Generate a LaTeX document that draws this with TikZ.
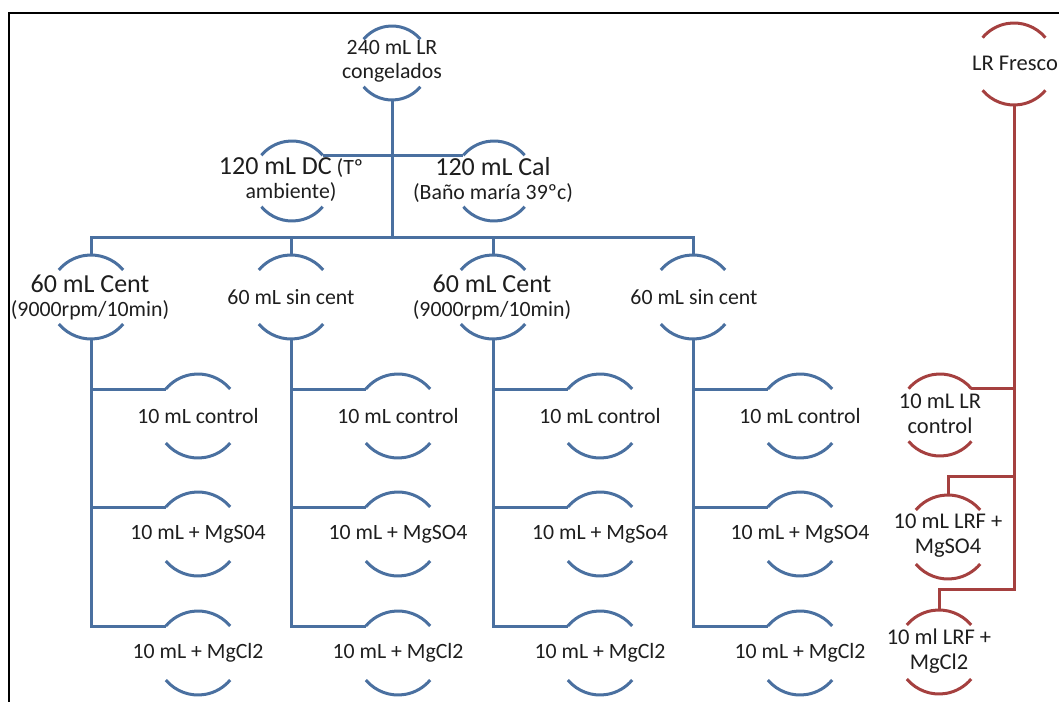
\documentclass[tikz,border=0pt]{standalone}
\usepackage{fontspec}
\setmainfont{Carlito}
\usepackage{tikz}
\usetikzlibrary{calc}
\definecolor{hblue}{HTML}{4A70A0}
\definecolor{hred}{HTML}{A5403F}
\definecolor{txtgray}{HTML}{1E1E1E}
\newcommand{\bigline}[1]{{\fontsize{26}{28}\selectfont #1}}

\begin{document}
\begin{tikzpicture}[x=1pt, y=1pt,
    ring/.style={circle, minimum size=#1, inner sep=0pt, outer sep=0pt},
    lbl/.style={align=center, inner sep=0pt, text=txtgray, font=\fontsize{21.8}{24}\selectfont},
    lblred/.style={lbl, font=\fontsize{22.5}{25}\selectfont},
    bline/.style={draw=hblue, line width=3pt},
    rline/.style={draw=hred, line width=3pt},
]
\useasboundingbox (0,0) rectangle (1059,702);

% frame
\draw[black, line width=1.4pt] (1059,689) -- (9,689) -- (9,0);

% frozen sample and its two halves
\node[ring=74pt] (top) at (392,639) {};
\node[lbl] (toptxt) at (392,641) {240 mL LR\\congelados};
\node[ring=80pt] (dc) at (292,521) {};
\node[lbl] (dctxt) at (291,522) {\bigline{120 mL DC} (Tº\\ambiente)};
\node[ring=80pt] (cal) at (494,521) {};
\node[lbl] (caltxt) at (493,522) {\bigline{120 mL Cal}\\(Baño maría 39ºc)};

% centrifuged / not centrifuged
\node[ring=84pt] (c1) at (91,405) {};
\node[lbl] (c1txt) at (90,405) {\bigline{60 mL Cent}\\(9000rpm/10min)};
\node[ring=84pt] (c2) at (291,405) {};
\node[lbl] (c2txt) at (291,405) {60 mL sin cent};
\node[ring=84pt] (c3) at (493,405) {};
\node[lbl] (c3txt) at (492,405) {\bigline{60 mL Cent}\\(9000rpm/10min)};
\node[ring=84pt] (c4) at (693,405) {};
\node[lbl] (c4txt) at (694,405) {60 mL sin cent};

% 10 mL tubes
\foreach \c/\x/\so in {1/198/MgS04, 2/398/MgSO4, 3/600/MgSo4, 4/800/MgSO4} {
  \node[ring=84pt] (l\c1) at (\x,286) {};
  \node[lbl] (l\c1txt) at (l\c1) {10 mL control};
  \node[ring=84pt] (l\c2) at (\x,168) {};
  \node[lbl] (l\c2txt) at (l\c2) {10 mL + \so};
  \node[ring=84pt] (l\c3) at (\x,49) {};
  \node[lbl] (l\c3txt) at (l\c3) {10 mL + MgCl2};
}

% fresh sample
\node[ring=82pt] (fresco) at (1014,638) {};
\node[lblred] (frescotxt) at (1015,639) {LR Fresco};
\node[ring=82pt] (lrc) at (940,287) {};
\node[lblred] (lrctxt) at (940,288) {10 mL LR\\control};
\node[ring=84pt] (lrf1) at (948,165) {};
\node[lblred] (lrf1txt) at (948,166) {10 mL LRF +\\MgSO4};
\node[ring=84pt] (lrf2) at (939,50) {};
\node[lblred] (lrf2txt) at (939,51) {10 ml LRF +\\MgCl2};

% arcs
\foreach \n/\r in {top/37, dc/40, cal/40, c1/42, c2/42, c3/42, c4/42,
    l11/42, l12/42, l13/42, l21/42, l22/42, l23/42,
    l31/42, l32/42, l33/42, l41/42, l42/42, l43/42}
  \draw[bline] (\n.40) arc[start angle=40, end angle=140, radius=\r pt]
               (\n.220) arc[start angle=220, end angle=320, radius=\r pt];
\foreach \n/\r in {fresco/41, lrc/41, lrf1/42, lrf2/42}
  \draw[rline] (\n.40) arc[start angle=40, end angle=140, radius=\r pt]
               (\n.220) arc[start angle=220, end angle=320, radius=\r pt];

% blue tree
\coordinate (bus) at (392,464);
\draw[bline] (top.south) -- (bus);
\draw[bline] (dc.40) -- (cal.140);
\draw[bline] (c1.north) |- (bus) -| (c4.north);
\draw[bline] (c2.north) -- (c2.north |- bus);
\draw[bline] (c3.north) -- (c3.north |- bus);
\foreach \c in {1,...,4} {
  \draw[bline] (c\c.south) |- (l\c3.140);
  \draw[bline] (c\c.south |- l\c1.140) -- (l\c1.140);
  \draw[bline] (c\c.south |- l\c2.140) -- (l\c2.140);
}

% red tree
\path (fresco.south) ++(0,-371) coordinate (rb2) ++(0,-113) coordinate (rb3);
\draw[rline] (fresco.south) -- (rb3) -| (lrf2.north);
\draw[rline] (rb2) -| (lrf1.north);
\draw[rline] (lrc.40) -- (lrc.40 -| fresco.south);

\end{tikzpicture}
\end{document}
